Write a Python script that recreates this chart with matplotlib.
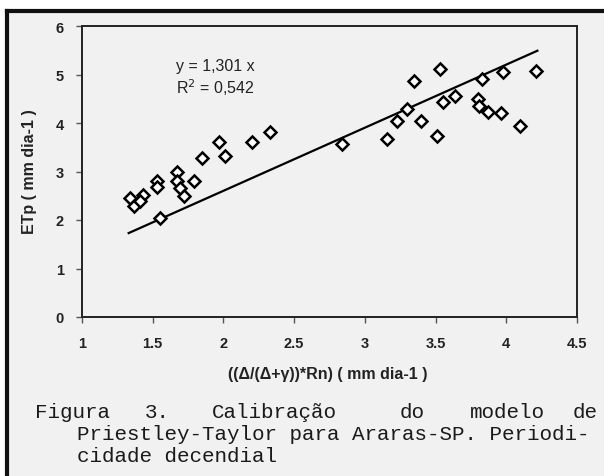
import matplotlib.pyplot as plt
import numpy as np
from matplotlib.lines import Line2D
from matplotlib.patches import Rectangle

# data
rn_x = [1.34, 1.37, 1.43, 1.41, 1.53, 1.53, 1.55, 1.67, 1.67, 1.69, 1.72, 1.79,
        1.85, 1.97, 2.01, 2.20, 2.33, 2.84, 3.16, 3.23, 3.30, 3.35, 3.40, 3.51,
        3.53, 3.55, 3.64, 3.80, 3.81, 3.83, 3.87, 3.96, 3.98, 4.10, 4.21]
etp_y = [2.45, 2.28, 2.52, 2.40, 2.80, 2.69, 2.04, 3.00, 2.80, 2.66, 2.49, 2.80,
         3.28, 3.61, 3.31, 3.60, 3.82, 3.57, 3.66, 4.05, 4.28, 4.87, 4.05, 3.74,
         5.11, 4.44, 4.55, 4.49, 4.36, 4.91, 4.22, 4.21, 5.05, 3.94, 5.08]
slope = 1.301
r2 = 0.542
fit_x = [1.33, 4.22]

x_ticks = [1, 1.5, 2, 2.5, 3, 3.5, 4, 4.5]
y_ticks = [0, 1, 2, 3, 4, 5, 6]

W, H = 604, 477
fig = plt.figure(figsize=(6.04, 4.77), dpi=100)
fig.patch.set_facecolor('white')

# scanned page background + frame
fig.add_artist(Rectangle((7 / W, 0), 1, 1 - 12 / H, transform=fig.transFigure,
                         facecolor='#f1f1f1', edgecolor='none', zorder=0))
fig.add_artist(Line2D([7 / W, 7 / W], [0, 1 - 12 / H], transform=fig.transFigure,
                      color='#111111', lw=3))
fig.add_artist(Line2D([7 / W, 1], [1 - 12 / H, 1 - 12 / H], transform=fig.transFigure,
                      color='#111111', lw=3))

ax = fig.add_axes([82 / W, 1 - 318 / H, (577 - 82) / W, (318 - 27) / H])
ax.set_facecolor('none')

ax.plot(rn_x, etp_y, linestyle='none', marker='D', ms=6.5, mfc='white',
        mec='black', mew=1.8, zorder=3)
fx = np.array(fit_x)
ax.plot(fx, slope * fx, color='black', lw=1.6, zorder=2)

ax.text(1.94, 5.18, 'y = 1,301 x', ha='center', va='center', fontsize=11.5,
        family='Liberation Sans', color='#222222')
ax.text(1.94, 4.74, 'R$^2$ = 0,542', ha='center', va='center', fontsize=11.5,
        family='Liberation Sans', color='#222222')

ax.set_xlim(1, 4.5)
ax.set_ylim(0, 6)
ax.set_xticks(x_ticks)
ax.set_xticklabels(['1', '1.5', '2', '2.5', '3', '3.5', '4', '4.5'])
ax.set_yticks(y_ticks)
ax.tick_params(axis='both', length=4, width=1, color='#555555',
               labelsize=10.5, colors='#222222')
ax.tick_params(axis='x', pad=10)
ax.tick_params(axis='y', pad=9)
for lab in ax.get_xticklabels() + ax.get_yticklabels():
    lab.set_fontweight('bold')
    lab.set_family('Liberation Sans')
for s in ax.spines.values():
    s.set_linewidth(1.4)
    s.set_color('#222222')

fig.text(30 / W, 1 - 172 / H, 'ETp ( mm dia-1 )', rotation=90, ha='center',
         va='center', fontsize=11.5, fontweight='bold', family='Liberation Sans',
         color='#222222')
fig.text(328 / W, 1 - 375 / H, '((\u0394/(\u0394+\u03b3))*Rn) ( mm dia-1 )',
         ha='center', va='center', fontsize=11.5, fontweight='bold',
         family='Liberation Sans', color='#222222')

# caption (justified first line)
cap = dict(fontsize=15, family='Liberation Mono', color='#1a1a1a', va='center')
words = ['Figura', '3.', 'Calibra\u00e7\u00e3o', 'do', 'modelo', 'de']
word_x = [35, 145, 212, 400, 470, 598]
for w, xp in zip(words, word_x):
    fig.text(xp / W, 1 - 413 / H, w, ha='right' if w == words[-1] else 'left', **cap)
fig.text(77 / W, 1 - 435 / H, 'Priestley-Taylor para Araras-SP. Periodi-', ha='left', **cap)
fig.text(77 / W, 1 - 457 / H, 'cidade decendial', ha='left', **cap)

fig.savefig('out.png', dpi=100, facecolor=fig.get_facecolor())
